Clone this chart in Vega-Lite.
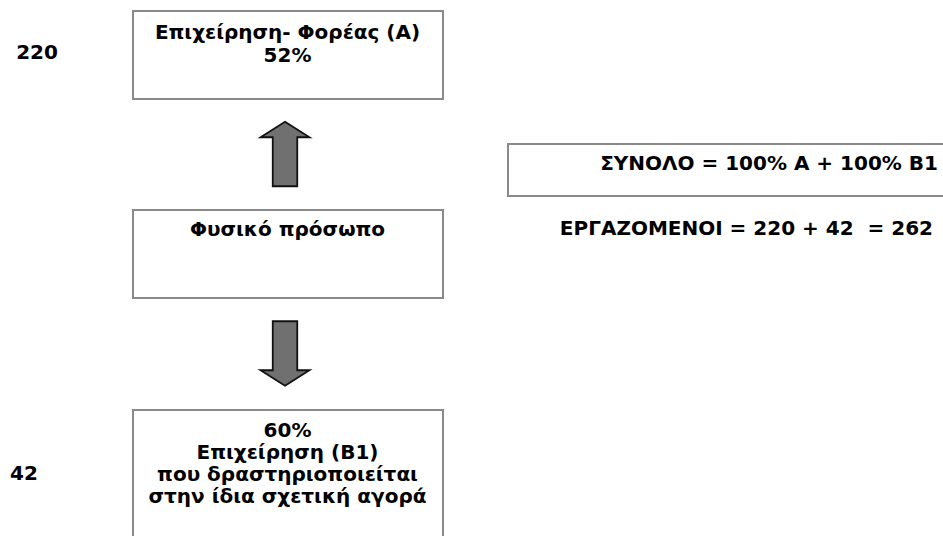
{
  "$schema": "https://vega.github.io/schema/vega-lite/v6.json",
  "width": 943,
  "height": 536,
  "autosize": {"type": "fit", "contains": "padding"},
  "padding": 0,
  "background": "white",
  "config": {
    "view": {"stroke": null},
    "text": {"font": "DejaVu Sans", "fontWeight": "bold", "fontSize": 20, "color": "#000000"}
  },
  "datasets": {
    "boxes": [
      {"name": "A", "x1": 133, "x2": 443, "y1": 11, "y2": 99},
      {"name": "person", "x1": 133, "x2": 443, "y1": 210, "y2": 298},
      {"name": "B1", "x1": 133, "x2": 443, "y1": 410, "y2": 560},
      {"name": "total", "x1": 508, "x2": 960, "y1": 144, "y2": 196}
    ],
    "arrowsUp": [{"x": 285, "y": 154}],
    "arrowsDown": [{"x": 285, "y": 353.5}],
    "centerText": [
      {"x": 37, "y": 53, "t": "220"},
      {"x": 24, "y": 474, "t": "42"},
      {"x": 287.5, "y": 33, "t": "Επιχείρηση- Φορέας (Α)"},
      {"x": 287.5, "y": 56, "t": "52%"},
      {"x": 287.5, "y": 230, "t": "Φυσικό πρόσωπο"},
      {"x": 287.5, "y": 431, "t": "60%"},
      {"x": 287.5, "y": 453, "t": "Επιχείρηση (Β1)"},
      {"x": 287.5, "y": 475, "t": "που δραστηριοποιείται"},
      {"x": 287.5, "y": 497, "t": "στην ίδια σχετική αγορά"}
    ],
    "rightText": [
      {"x": 938, "y": 164, "t": "ΣΥΝΟΛΟ = 100% Α + 100% Β1"},
      {"x": 933, "y": 229, "t": "ΕΡΓΑΖΟΜΕΝΟΙ = 220 + 42 \u00a0= 262"}
    ]
  },
  "layer": [
    {
      "data": {"name": "boxes"},
      "mark": {"type": "rect", "fill": "white", "stroke": "#8a8a8a", "strokeWidth": 2, "clip": true},
      "encoding": {
        "x": {"field": "x1", "type": "quantitative", "scale": {"domain": [0, 943], "nice": false, "zero": false}, "axis": null},
        "x2": {"field": "x2"},
        "y": {"field": "y1", "type": "quantitative", "scale": {"domain": [0, 536], "nice": false, "zero": false, "reverse": true}, "axis": null},
        "y2": {"field": "y2"}
      }
    },
    {
      "data": {"name": "arrowsUp"},
      "mark": {"type": "point", "filled": true, "fill": "#707070", "stroke": "#111111", "strokeWidth": 1.8, "opacity": 1, "size": 4160,
        "shape": "M0,-1L0.76,-0.52L0.38,-0.52L0.38,1L-0.38,1L-0.38,-0.52L-0.76,-0.52Z"},
      "encoding": {
        "x": {"field": "x", "type": "quantitative"},
        "y": {"field": "y", "type": "quantitative"}
      }
    },
    {
      "data": {"name": "arrowsDown"},
      "mark": {"type": "point", "filled": true, "fill": "#707070", "stroke": "#111111", "strokeWidth": 1.8, "opacity": 1, "size": 4160,
        "shape": "M0,1L0.76,0.52L0.38,0.52L0.38,-1L-0.38,-1L-0.38,0.52L-0.76,0.52Z"},
      "encoding": {
        "x": {"field": "x", "type": "quantitative"},
        "y": {"field": "y", "type": "quantitative"}
      }
    },
    {
      "data": {"name": "centerText"},
      "mark": {"type": "text", "align": "center", "baseline": "middle"},
      "encoding": {
        "x": {"field": "x", "type": "quantitative"},
        "y": {"field": "y", "type": "quantitative"},
        "text": {"field": "t"}
      }
    },
    {
      "data": {"name": "rightText"},
      "mark": {"type": "text", "align": "right", "baseline": "middle"},
      "encoding": {
        "x": {"field": "x", "type": "quantitative"},
        "y": {"field": "y", "type": "quantitative"},
        "text": {"field": "t"}
      }
    }
  ]
}
